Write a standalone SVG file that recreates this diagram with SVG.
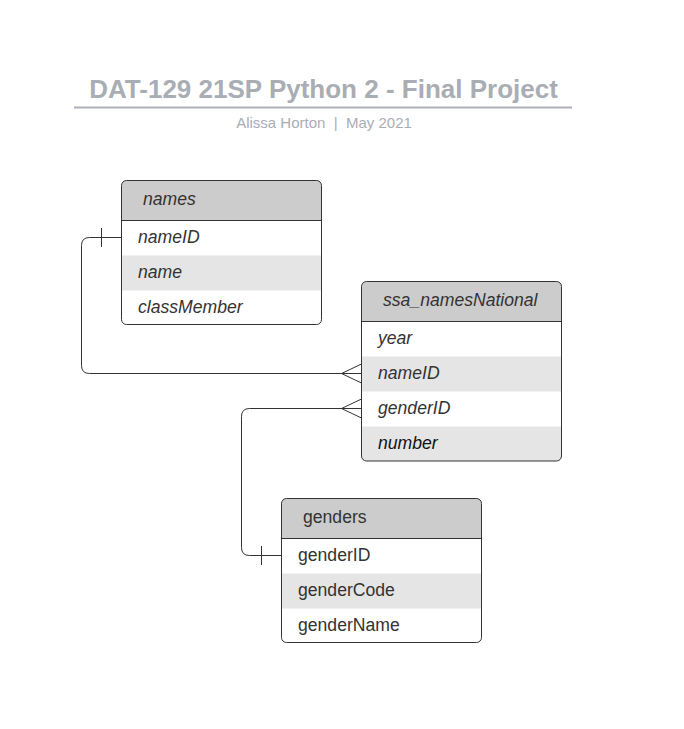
<svg xmlns="http://www.w3.org/2000/svg" width="684" height="729" viewBox="0 0 684 729">
<style>
.title{font-family:"Liberation Sans",Arial,sans-serif;font-weight:bold;font-size:26px;fill:#a9adb4}
.sub{font-family:"Liberation Sans",Arial,sans-serif;font-size:15px;fill:#a9adb4}
.hdr{fill:#cccccc}
.alt{fill:#e5e5e5}
.frame{fill:none;stroke:#333333;stroke-width:1}
.sep{stroke:#333333;stroke-width:1}
.t{font-family:"Liberation Sans",Arial,sans-serif;font-size:17.6px;fill:#333333}
.i{font-style:italic}
.conn{fill:none;stroke:#333333;stroke-width:1}
</style>
<rect width="684" height="729" fill="#ffffff"/>
<g id="title">
<text class="title" x="323.5" y="97.5" text-anchor="middle">DAT-129 21SP Python 2 - Final Project</text>
<line x1="74" y1="107.5" x2="572" y2="107.5" stroke="#aeb1b8" stroke-width="2"/>
<text class="sub" x="324" y="128" text-anchor="middle">Alissa Horton&#160; |&#160; May 2021</text>
</g>
<g id="connectors">
<path class="conn" d="M121.5 237.5 H89.5 Q81.5 237.5 81.5 245.5 V365.5 Q81.5 373.5 89.5 373.5 H361.5"/>
<line class="conn" x1="101.5" y1="228" x2="101.5" y2="247"/>
<path class="conn" d="M361.5 364 L341.5 373.5 L361.5 383"/>
<path class="conn" d="M281.5 555.5 H249.5 Q241.5 555.5 241.5 547.5 V416.5 Q241.5 408.5 249.5 408.5 H361.5"/>
<line class="conn" x1="261.5" y1="546" x2="261.5" y2="565"/>
<path class="conn" d="M361.5 399 L341.5 408.5 L361.5 418"/>
</g>
<g id="names">
<path class="hdr" d="M121.5 220.5 V185.5 Q121.5 180.5 126.5 180.5 H316.5 Q321.5 180.5 321.5 185.5 V220.5 Z"/>
<rect class="alt" x="121.5" y="255.5" width="200" height="35"/>
<rect class="frame" x="121.5" y="180.5" width="200" height="144" rx="5"/>
<line class="sep" x1="121.5" y1="220.5" x2="321.5" y2="220.5"/>
<text class="t i" x="143" y="205">names</text>
<text class="t i" x="138" y="243">nameID</text>
<text class="t i" x="138" y="278">name</text>
<text class="t i" x="138" y="313">classMember</text>
</g>
<g id="ssa_namesNational">
<path class="hdr" d="M361.5 321.5 V286.5 Q361.5 281.5 366.5 281.5 H556.5 Q561.5 281.5 561.5 286.5 V321.5 Z"/>
<rect class="alt" x="361.5" y="356.5" width="200" height="35"/>
<path class="alt" d="M361.5 426.5 H561.5 V456 Q561.5 461 556.5 461 H366.5 Q361.5 461 361.5 456 Z"/>
<rect class="frame" x="361.5" y="281.5" width="200" height="179.5" rx="5"/>
<line class="sep" x1="361.5" y1="321.5" x2="561.5" y2="321.5"/>
<text class="t i" x="383" y="306">ssa_namesNational</text>
<text class="t i" x="378" y="344">year</text>
<text class="t i" x="378" y="379">nameID</text>
<text class="t i" x="378" y="414">genderID</text>
<text class="t i" x="378" y="449" fill="#000000" style="fill:#111111">number</text>
</g>
<g id="genders">
<path class="hdr" d="M281.5 538.5 V503.5 Q281.5 498.5 286.5 498.5 H476.5 Q481.5 498.5 481.5 503.5 V538.5 Z"/>
<rect class="alt" x="281.5" y="573.5" width="200" height="35"/>
<rect class="frame" x="281.5" y="498.5" width="200" height="144" rx="5"/>
<line class="sep" x1="281.5" y1="538.5" x2="481.5" y2="538.5"/>
<text class="t" x="303" y="523">genders</text>
<text class="t" x="298" y="561">genderID</text>
<text class="t" x="298" y="596">genderCode</text>
<text class="t" x="298" y="631">genderName</text>
</g>
</svg>
